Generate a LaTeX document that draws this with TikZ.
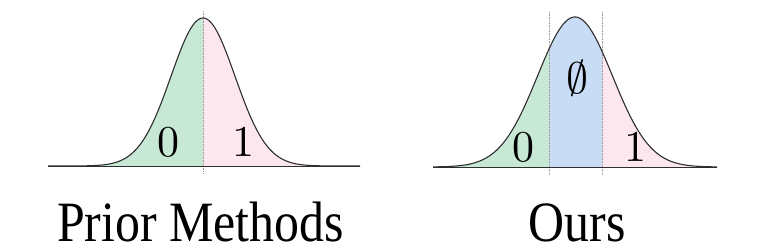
\documentclass[tikz,border=0pt]{standalone}
\usepackage{fontspec}
\newfontfamily\capfont{Liberation Serif}
\definecolor{ZeroGreen}{HTML}{C6E8D4}
\definecolor{OnePink}{HTML}{FDE7EE}
\definecolor{NullBlue}{HTML}{C9DCF5}
\definecolor{DivGray}{HTML}{9A9A9A}
\definecolor{CurveInk}{HTML}{2E2E2E}
\usetikzlibrary{positioning}

\tikzset{
  declare function={bell(\d,\s)=exp(-0.5*(\d/\s)^2);},
  curve/.style={CurveInk, line width=1.1pt},
  divider/.style={DivGray, densely dotted, line width=0.6pt},
  digit/.style={font=\fontsize{10}{12}\selectfont, scale=4.4, inner sep=0pt},
  methodname/.style={font=\fontsize{57}{57}\capfont, xscale=0.875, anchor=base, inner sep=0pt}
}

\begin{document}
\begin{tikzpicture}[x=1pt, y=-1pt]
   \useasboundingbox (0,0) rectangle (778,246);
   % Prior methods: mean at x=203, split in two halves
   \fill[ZeroGreen] (48,166) -- plot[domain=48:203, samples=80] (\x, {166-148*bell(\x-203,32)}) -- (203,166) -- cycle;
   \fill[OnePink] (203,166) -- plot[domain=203:360, samples=80] (\x, {166-148*bell(\x-203,32)}) -- (360,166) -- cycle;
   \draw[divider] (203,11) -- (203,173);
   \draw[curve] plot[domain=48:360, samples=160] (\x, {166-148*bell(\x-203,32)});
   \draw[curve, line width=0.9pt] (48,166) -- (360,166);
   \node[digit] (zeroL) at (168,142) {0};
   \node[digit] (oneL) at (243,142) {1};
   \node[methodname] (prior) at (200.5,241) {Prior Methods};
   % Ours: mean at x=575, null band between 549 and 602
   \fill[ZeroGreen] (433,167) -- plot[domain=433:549, samples=60] (\x, {167-150*bell(\x-575,37.5)}) -- (549,167) -- cycle;
   \fill[NullBlue] (549,167) -- plot[domain=549:602, samples=40] (\x, {167-150*bell(\x-575,37.5)}) -- (602,167) -- cycle;
   \fill[OnePink] (602,167) -- plot[domain=602:717, samples=60] (\x, {167-150*bell(\x-575,37.5)}) -- (717,167) -- cycle;
   \draw[divider] (549,12) -- (549,175);
   \draw[divider] (602,12) -- (602,175);
   \draw[curve] plot[domain=433:717, samples=160] (\x, {167-150*bell(\x-575,37.5)});
   \draw[curve, line width=0.9pt] (433,167) -- (717,167);
   \node[digit] (zeroR) at (523,147) {0};
   \node[digit] (nullR) at (577,78) {$\emptyset$};
   \node[digit] (oneR) at (635,147) {1};
   \node[methodname] (ours) at (577,241) {Ours};
\end{tikzpicture}
\end{document}
